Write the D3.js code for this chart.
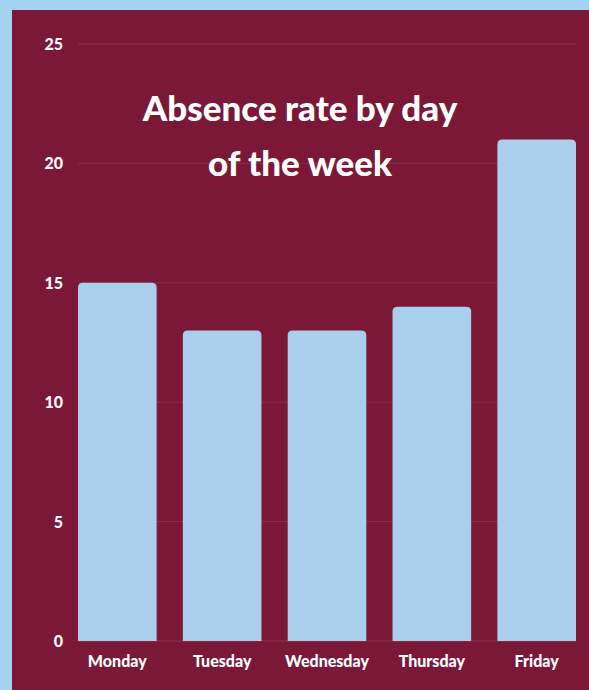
<!DOCTYPE html>
<html><head><meta charset="utf-8">
<script src="https://cdn.jsdelivr.net/npm/d3@7"></script>
<style>
html,body{margin:0;padding:0;background:#a4d2f1;}
svg{display:block;}
</style></head>
<body><svg id="c" width="589" height="690"></svg>
<script>
const days = ["Monday","Tuesday","Wednesday","Thursday","Friday"];
const absenceRate = [15, 13, 13, 14, 21];
const yTicks = [0, 5, 10, 15, 20, 25];
const titleLines = ["Absence rate by day", "of the week"];

const svg = d3.select("#c");
svg.append("rect").attr("x",12).attr("y",10).attr("width",577).attr("height",680).attr("fill","#7b1838");

const x = d3.scaleBand().domain(days).range([78,576]).paddingInner(0.25).paddingOuter(0);
const y = d3.scaleLinear().domain([0,25]).range([641,44]);

const font = "Lato, 'Open Sans', sans-serif";

svg.append("g").selectAll("line").data(yTicks).join("line")
  .attr("x1",78).attr("x2",576)
  .attr("y1",d=>y(d)).attr("y2",d=>y(d))
  .attr("stroke","#8c2d4b").attr("stroke-width",1);

svg.append("g").selectAll("text").data(yTicks).join("text")
  .attr("x",63).attr("y",d=>y(d)+6)
  .attr("text-anchor","end")
  .attr("font-family",font).attr("font-weight",900).attr("font-size",16)
  .attr("fill","#ffffff").text(d=>d);

const r = 5;
svg.append("g").selectAll("path").data(days).join("path")
  .attr("d",(d,i)=>{
    const x0 = x(d), w = x.bandwidth(), y0 = y(absenceRate[i]), y1 = y(0);
    return `M${x0},${y1}V${y0+r}Q${x0},${y0} ${x0+r},${y0}H${x0+w-r}Q${x0+w},${y0} ${x0+w},${y0+r}V${y1}Z`;
  })
  .attr("fill","#a9cfec");

svg.append("g").selectAll("text").data(days).join("text")
  .attr("x",d=>x(d)+x.bandwidth()/2).attr("y",667)
  .attr("text-anchor","middle")
  .attr("font-family",font).attr("font-weight",900).attr("font-size",16)
  .attr("fill","#ffffff").text(d=>d);

svg.append("g").selectAll("text").data(titleLines).join("text")
  .attr("x",300).attr("y",(d,i)=>121+i*55)
  .attr("text-anchor","middle")
  .attr("font-family",font).attr("font-weight",900).attr("font-size",35)
  .attr("fill","#ffffff").text(d=>d);
</script></body></html>
